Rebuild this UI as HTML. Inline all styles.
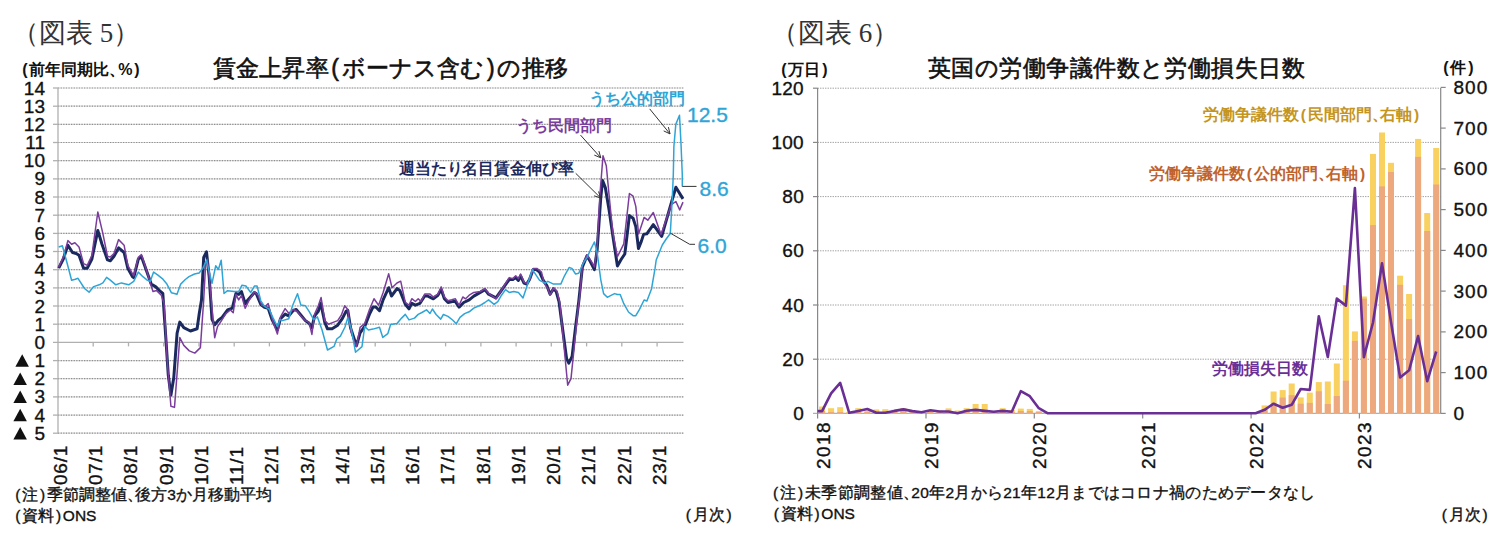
<!DOCTYPE html>
<html lang="ja"><head><meta charset="utf-8"><style>
html,body{margin:0;padding:0;background:#fff;width:1508px;height:542px;overflow:hidden}
body{position:relative;font-family:"Liberation Sans",sans-serif;color:#111}
.t{position:absolute;white-space:nowrap;line-height:1}
svg{position:absolute;left:0;top:0}
.fig{font-family:"Liberation Serif",serif;font-size:27px;color:#333}
.ttl{font-size:23px;letter-spacing:0.15px;font-weight:normal;-webkit-text-stroke:0.6px #111;color:#111}
.unit{font-size:16px;font-weight:bold}
.yl{font-size:19px;text-align:right;width:40px}
.xl{font-size:19px;transform-origin:0 0;transform:rotate(-90deg)}
.note{font-size:15.5px}
.pl,.pr{display:inline-block;width:0.56em;text-align:center;font-family:"Liberation Sans",sans-serif}
.cm{display:inline-block;width:0.55em;overflow:hidden;vertical-align:top}
.sk{-webkit-text-stroke:0.35px currentColor}
</style></head><body>
<svg width="1508" height="542" viewBox="0 0 1508 542">
<line x1="53" y1="88.0" x2="58" y2="88.0" stroke="#b0b0b0" stroke-width="1.3"/>
<line x1="58.0" y1="88.0" x2="683.5" y2="88.0" stroke="#e2e2e2" stroke-width="1.2"/>
<line x1="58.0" y1="88.0" x2="683.5" y2="88.0" stroke="#8f8f8f" stroke-width="1.2" stroke-dasharray="1.3 1.3"/>
<line x1="53" y1="106.2" x2="58" y2="106.2" stroke="#b0b0b0" stroke-width="1.3"/>
<line x1="58.0" y1="106.2" x2="683.5" y2="106.2" stroke="#e2e2e2" stroke-width="1.2"/>
<line x1="58.0" y1="106.2" x2="683.5" y2="106.2" stroke="#8f8f8f" stroke-width="1.2" stroke-dasharray="1.3 1.3"/>
<line x1="53" y1="124.3" x2="58" y2="124.3" stroke="#b0b0b0" stroke-width="1.3"/>
<line x1="58.0" y1="124.3" x2="683.5" y2="124.3" stroke="#e2e2e2" stroke-width="1.2"/>
<line x1="58.0" y1="124.3" x2="683.5" y2="124.3" stroke="#8f8f8f" stroke-width="1.2" stroke-dasharray="1.3 1.3"/>
<line x1="53" y1="142.5" x2="58" y2="142.5" stroke="#b0b0b0" stroke-width="1.3"/>
<line x1="58.0" y1="142.5" x2="683.5" y2="142.5" stroke="#e2e2e2" stroke-width="1.2"/>
<line x1="58.0" y1="142.5" x2="683.5" y2="142.5" stroke="#8f8f8f" stroke-width="1.2" stroke-dasharray="1.3 1.3"/>
<line x1="53" y1="160.7" x2="58" y2="160.7" stroke="#b0b0b0" stroke-width="1.3"/>
<line x1="58.0" y1="160.7" x2="683.5" y2="160.7" stroke="#e2e2e2" stroke-width="1.2"/>
<line x1="58.0" y1="160.7" x2="683.5" y2="160.7" stroke="#8f8f8f" stroke-width="1.2" stroke-dasharray="1.3 1.3"/>
<line x1="53" y1="178.9" x2="58" y2="178.9" stroke="#b0b0b0" stroke-width="1.3"/>
<line x1="58.0" y1="178.9" x2="683.5" y2="178.9" stroke="#e2e2e2" stroke-width="1.2"/>
<line x1="58.0" y1="178.9" x2="683.5" y2="178.9" stroke="#8f8f8f" stroke-width="1.2" stroke-dasharray="1.3 1.3"/>
<line x1="53" y1="197.0" x2="58" y2="197.0" stroke="#b0b0b0" stroke-width="1.3"/>
<line x1="58.0" y1="197.0" x2="683.5" y2="197.0" stroke="#e2e2e2" stroke-width="1.2"/>
<line x1="58.0" y1="197.0" x2="683.5" y2="197.0" stroke="#8f8f8f" stroke-width="1.2" stroke-dasharray="1.3 1.3"/>
<line x1="53" y1="215.2" x2="58" y2="215.2" stroke="#b0b0b0" stroke-width="1.3"/>
<line x1="58.0" y1="215.2" x2="683.5" y2="215.2" stroke="#e2e2e2" stroke-width="1.2"/>
<line x1="58.0" y1="215.2" x2="683.5" y2="215.2" stroke="#8f8f8f" stroke-width="1.2" stroke-dasharray="1.3 1.3"/>
<line x1="53" y1="233.4" x2="58" y2="233.4" stroke="#b0b0b0" stroke-width="1.3"/>
<line x1="58.0" y1="233.4" x2="683.5" y2="233.4" stroke="#e2e2e2" stroke-width="1.2"/>
<line x1="58.0" y1="233.4" x2="683.5" y2="233.4" stroke="#8f8f8f" stroke-width="1.2" stroke-dasharray="1.3 1.3"/>
<line x1="53" y1="251.5" x2="58" y2="251.5" stroke="#b0b0b0" stroke-width="1.3"/>
<line x1="58.0" y1="251.5" x2="683.5" y2="251.5" stroke="#e2e2e2" stroke-width="1.2"/>
<line x1="58.0" y1="251.5" x2="683.5" y2="251.5" stroke="#8f8f8f" stroke-width="1.2" stroke-dasharray="1.3 1.3"/>
<line x1="53" y1="269.7" x2="58" y2="269.7" stroke="#b0b0b0" stroke-width="1.3"/>
<line x1="58.0" y1="269.7" x2="683.5" y2="269.7" stroke="#e2e2e2" stroke-width="1.2"/>
<line x1="58.0" y1="269.7" x2="683.5" y2="269.7" stroke="#8f8f8f" stroke-width="1.2" stroke-dasharray="1.3 1.3"/>
<line x1="53" y1="287.9" x2="58" y2="287.9" stroke="#b0b0b0" stroke-width="1.3"/>
<line x1="58.0" y1="287.9" x2="683.5" y2="287.9" stroke="#e2e2e2" stroke-width="1.2"/>
<line x1="58.0" y1="287.9" x2="683.5" y2="287.9" stroke="#8f8f8f" stroke-width="1.2" stroke-dasharray="1.3 1.3"/>
<line x1="53" y1="306.0" x2="58" y2="306.0" stroke="#b0b0b0" stroke-width="1.3"/>
<line x1="58.0" y1="306.0" x2="683.5" y2="306.0" stroke="#e2e2e2" stroke-width="1.2"/>
<line x1="58.0" y1="306.0" x2="683.5" y2="306.0" stroke="#8f8f8f" stroke-width="1.2" stroke-dasharray="1.3 1.3"/>
<line x1="53" y1="324.2" x2="58" y2="324.2" stroke="#b0b0b0" stroke-width="1.3"/>
<line x1="58.0" y1="324.2" x2="683.5" y2="324.2" stroke="#e2e2e2" stroke-width="1.2"/>
<line x1="58.0" y1="324.2" x2="683.5" y2="324.2" stroke="#8f8f8f" stroke-width="1.2" stroke-dasharray="1.3 1.3"/>
<line x1="53" y1="342.4" x2="683.5" y2="342.4" stroke="#b0b0b0" stroke-width="1.3"/>
<line x1="53" y1="360.6" x2="58" y2="360.6" stroke="#b0b0b0" stroke-width="1.3"/>
<line x1="58.0" y1="360.6" x2="683.5" y2="360.6" stroke="#e2e2e2" stroke-width="1.2"/>
<line x1="58.0" y1="360.6" x2="683.5" y2="360.6" stroke="#8f8f8f" stroke-width="1.2" stroke-dasharray="1.3 1.3"/>
<line x1="53" y1="378.7" x2="58" y2="378.7" stroke="#b0b0b0" stroke-width="1.3"/>
<line x1="58.0" y1="378.7" x2="683.5" y2="378.7" stroke="#e2e2e2" stroke-width="1.2"/>
<line x1="58.0" y1="378.7" x2="683.5" y2="378.7" stroke="#8f8f8f" stroke-width="1.2" stroke-dasharray="1.3 1.3"/>
<line x1="53" y1="396.9" x2="58" y2="396.9" stroke="#b0b0b0" stroke-width="1.3"/>
<line x1="58.0" y1="396.9" x2="683.5" y2="396.9" stroke="#e2e2e2" stroke-width="1.2"/>
<line x1="58.0" y1="396.9" x2="683.5" y2="396.9" stroke="#8f8f8f" stroke-width="1.2" stroke-dasharray="1.3 1.3"/>
<line x1="53" y1="415.1" x2="58" y2="415.1" stroke="#b0b0b0" stroke-width="1.3"/>
<line x1="58.0" y1="415.1" x2="683.5" y2="415.1" stroke="#e2e2e2" stroke-width="1.2"/>
<line x1="58.0" y1="415.1" x2="683.5" y2="415.1" stroke="#8f8f8f" stroke-width="1.2" stroke-dasharray="1.3 1.3"/>
<line x1="53" y1="433.2" x2="58" y2="433.2" stroke="#b0b0b0" stroke-width="1.3"/>
<line x1="58.0" y1="433.2" x2="683.5" y2="433.2" stroke="#e2e2e2" stroke-width="1.2"/>
<line x1="58.0" y1="433.2" x2="683.5" y2="433.2" stroke="#8f8f8f" stroke-width="1.2" stroke-dasharray="1.3 1.3"/>
<line x1="58" y1="88" x2="58" y2="433.2" stroke="#b0b0b0" stroke-width="1.3"/>
<line x1="93.2" y1="342.4" x2="93.2" y2="346.4" stroke="#b0b0b0" stroke-width="1.3"/>
<line x1="128.5" y1="342.4" x2="128.5" y2="346.4" stroke="#b0b0b0" stroke-width="1.3"/>
<line x1="163.7" y1="342.4" x2="163.7" y2="346.4" stroke="#b0b0b0" stroke-width="1.3"/>
<line x1="199.0" y1="342.4" x2="199.0" y2="346.4" stroke="#b0b0b0" stroke-width="1.3"/>
<line x1="234.2" y1="342.4" x2="234.2" y2="346.4" stroke="#b0b0b0" stroke-width="1.3"/>
<line x1="269.4" y1="342.4" x2="269.4" y2="346.4" stroke="#b0b0b0" stroke-width="1.3"/>
<line x1="304.7" y1="342.4" x2="304.7" y2="346.4" stroke="#b0b0b0" stroke-width="1.3"/>
<line x1="339.9" y1="342.4" x2="339.9" y2="346.4" stroke="#b0b0b0" stroke-width="1.3"/>
<line x1="375.2" y1="342.4" x2="375.2" y2="346.4" stroke="#b0b0b0" stroke-width="1.3"/>
<line x1="410.4" y1="342.4" x2="410.4" y2="346.4" stroke="#b0b0b0" stroke-width="1.3"/>
<line x1="445.6" y1="342.4" x2="445.6" y2="346.4" stroke="#b0b0b0" stroke-width="1.3"/>
<line x1="480.9" y1="342.4" x2="480.9" y2="346.4" stroke="#b0b0b0" stroke-width="1.3"/>
<line x1="516.1" y1="342.4" x2="516.1" y2="346.4" stroke="#b0b0b0" stroke-width="1.3"/>
<line x1="551.3" y1="342.4" x2="551.3" y2="346.4" stroke="#b0b0b0" stroke-width="1.3"/>
<line x1="586.6" y1="342.4" x2="586.6" y2="346.4" stroke="#b0b0b0" stroke-width="1.3"/>
<line x1="621.8" y1="342.4" x2="621.8" y2="346.4" stroke="#b0b0b0" stroke-width="1.3"/>
<line x1="657.1" y1="342.4" x2="657.1" y2="346.4" stroke="#b0b0b0" stroke-width="1.3"/>
<polyline points="58.7,268.2 63.3,259.0 67.9,245.2 72.5,252.5 76.2,253.5 79.0,255.3 83.6,268.2 87.3,268.2 91.9,259.0 97.8,230.4 102.0,244.2 107.5,259.9 110.3,260.8 114.0,256.2 118.6,247.9 124.1,252.5 127.8,268.2 132.4,276.5 133.7,277.6 138.3,259.2 141.4,256.5 145.7,268.4 151.2,284.1 155.8,286.9 159.5,290.6 162.8,293.3 166.1,342.0 168.3,375.3 170.9,395.2 173.8,377.5 177.1,333.2 179.8,322.1 183.8,327.7 190.4,331.0 197.1,328.8 199.3,313.3 201.5,300.0 203.7,257.4 206.5,251.8 209.2,276.9 212.0,319.3 214.7,324.8 218.4,320.2 222.1,317.4 227.6,310.0 232.3,308.2 235.9,293.5 238.7,294.4 241.5,291.6 245.2,303.6 247.9,299.9 254.4,292.5 256.2,293.5 260.8,304.5 264.5,307.3 268.2,308.2 271.9,319.3 277.4,330.0 280.5,318.7 285.1,314.1 288.8,315.9 293.4,310.4 296.2,309.5 300.8,315.0 305.4,320.6 309.1,323.3 311.9,327.9 314.6,315.9 318.3,311.3 320.7,303.0 324.8,322.4 327.5,328.8 332.1,328.8 337.7,325.2 342.3,318.7 346.0,311.3 347.8,310.4 350.6,327.9 353.7,337.4 356.5,345.7 360.1,332.8 364.7,326.4 369.4,314.4 373.0,307.0 375.8,307.0 379.5,310.7 383.2,299.6 388.7,287.7 391.5,296.0 397.0,288.6 399.8,290.4 405.3,304.2 409.0,308.8 411.8,303.3 415.4,305.2 420.0,303.3 424.7,296.0 427.4,296.0 433.3,298.8 437.9,295.2 441.2,289.6 444.4,298.8 448.0,302.5 452.6,301.6 455.4,301.6 459.1,307.1 463.7,302.5 469.2,299.8 473.8,296.1 480.3,292.4 484.9,289.6 488.6,294.2 496.0,297.9 500.6,291.5 504.6,285.9 509.2,279.5 512.9,279.5 515.7,277.6 518.4,280.4 520.6,275.8 524.0,283.2 526.7,284.1 529.5,279.5 533.2,269.4 535.9,269.4 539.6,272.1 543.3,280.4 547.0,285.9 550.1,294.2 553.5,288.7 556.2,291.5 559.0,301.6 563.3,334.3 566.6,358.6 568.8,363.1 572.1,356.4 575.5,327.6 578.8,301.1 582.4,266.9 587.0,255.8 590.7,262.3 594.4,269.6 597.1,250.3 600.8,197.1 602.6,180.6 605.4,187.9 609.1,210.0 612.8,235.5 617.4,265.9 621.1,259.5 624.8,254.0 626.6,239.2 629.4,215.6 633.1,218.3 635.8,226.6 638.5,248.5 641.4,241.1 643.6,234.4 646.8,233.8 653.3,224.7 661.7,236.4 672.6,198.3 675.9,187.3 683.0,198.9" fill="none" stroke="#1b2a5e" stroke-width="3" stroke-linejoin="round"/>
<polyline points="58.7,267.3 63.3,257.1 67.9,240.6 71.6,244.2 74.9,242.8 79.0,247.0 83.6,263.6 87.3,265.4 91.9,255.3 97.8,212.0 102.6,232.3 107.5,256.2 110.3,257.1 114.0,253.5 118.6,239.6 124.1,245.2 127.8,265.4 132.4,273.7 133.7,275.8 138.3,257.4 141.4,254.6 145.7,267.5 151.2,286.0 153.0,291.5 156.7,290.6 161.3,295.2 164.1,303.5 167.2,359.8 170.9,406.3 174.5,407.4 177.1,373.1 179.8,337.6 183.8,345.4 189.3,350.9 194.8,353.1 200.4,347.6 203.7,300.0 205.6,264.7 207.4,259.2 209.2,276.9 214.7,337.7 217.5,326.6 221.2,321.1 225.8,313.7 230.4,310.0 233.2,312.8 235.9,294.4 238.7,299.9 241.5,295.3 245.2,308.2 248.8,300.8 254.4,291.6 258.1,295.3 261.8,305.4 265.4,306.4 268.2,303.6 272.8,321.1 277.4,334.0 280.5,316.9 285.1,308.6 288.8,313.2 293.4,309.5 297.1,311.3 300.8,315.9 305.4,320.6 309.1,322.4 311.9,334.4 314.6,314.1 318.3,305.8 321.1,297.5 324.8,320.6 328.5,324.2 333.1,322.4 337.7,320.6 341.4,315.0 344.7,305.8 347.8,309.5 350.9,331.6 354.1,341.1 356.5,346.6 360.1,327.3 364.7,323.6 369.4,309.8 374.0,298.7 378.6,305.2 383.2,292.3 388.7,273.8 392.0,287.7 397.0,283.0 400.7,281.2 405.3,302.4 409.0,305.2 411.8,298.7 415.4,301.5 418.2,298.7 421.0,301.5 424.7,294.1 430.0,294.1 433.3,297.0 437.9,294.2 441.2,286.9 444.4,297.0 448.0,300.7 451.7,299.8 455.4,298.8 459.1,305.3 462.8,297.0 465.6,298.8 469.2,295.2 473.8,292.4 480.3,291.5 484.9,288.7 488.6,293.3 496.0,298.8 500.6,291.5 504.6,285.0 509.2,277.6 512.9,278.6 515.7,275.8 518.4,278.6 520.6,274.0 524.0,282.3 526.7,283.2 530.4,278.6 533.2,268.4 536.9,268.4 541.5,272.1 544.2,283.2 547.9,288.7 550.1,295.2 553.5,287.8 557.1,291.5 559.9,303.5 563.3,338.7 567.7,385.2 571.0,378.6 574.4,345.3 577.7,312.1 579.9,294.4 582.4,265.0 587.0,254.9 590.7,260.4 594.4,266.9 597.1,246.6 599.9,195.3 603.0,155.7 606.3,165.8 609.1,195.3 612.8,232.2 617.4,256.7 623.8,243.8 629.4,193.5 633.1,196.2 635.8,206.4 638.6,234.0 644.1,217.4 647.8,220.2 653.3,212.5 661.0,234.4 671.3,204.7 675.9,201.5 679.7,209.9 683.0,202.1" fill="none" stroke="#7b3d9c" stroke-width="1.5" stroke-linejoin="round"/>
<polyline points="58.7,247.0 62.4,245.7 67.0,262.7 71.6,280.2 75.3,279.3 78.0,278.3 84.5,288.5 89.1,292.2 93.7,286.6 99.2,284.8 102.9,282.9 106.6,277.4 110.3,280.2 115.8,284.8 121.4,282.9 128.7,284.8 133.7,281.3 138.3,272.1 142.9,276.7 147.5,280.4 150.3,281.3 153.6,272.1 157.6,274.9 162.3,278.6 166.9,284.1 171.5,292.8 177.0,294.2 180.7,284.1 185.3,279.5 189.0,276.7 194.5,274.0 199.1,273.0 202.8,268.4 206.5,260.3 212.0,283.3 215.7,265.8 218.4,269.5 221.2,260.3 224.0,293.5 227.6,290.7 234.1,291.6 238.7,291.6 242.0,285.2 246.1,286.1 250.7,292.5 254.4,286.1 257.1,286.1 260.8,300.8 264.5,306.4 269.1,309.1 272.8,317.4 277.4,326.6 280.0,319.3 282.4,320.6 288.8,318.7 292.5,305.8 297.5,293.8 300.8,304.9 305.4,305.8 309.1,311.3 313.7,319.6 317.4,316.9 322.0,329.8 327.5,350.0 334.0,346.4 336.8,339.0 340.4,336.2 345.0,327.0 347.8,317.8 351.5,329.8 355.5,352.2 362.0,346.6 364.7,326.4 368.4,330.0 373.0,329.1 379.5,327.3 382.8,337.4 387.8,333.7 390.6,324.5 397.0,323.6 401.6,318.1 405.3,314.4 409.0,319.9 414.5,318.1 418.2,314.4 421.9,312.5 426.5,309.8 430.0,313.5 432.4,309.0 436.1,314.5 440.7,319.1 443.4,314.5 448.0,316.4 452.6,320.0 456.3,323.7 460.0,317.3 464.6,313.6 469.2,311.8 473.8,308.1 480.3,305.3 484.9,302.5 488.6,299.8 494.1,304.4 497.8,301.6 501.5,295.2 505.5,289.6 509.2,292.4 513.8,291.5 518.4,292.4 523.0,297.9 526.7,286.9 532.3,269.4 539.6,280.4 545.2,283.2 547.9,281.3 553.5,284.1 560.8,284.1 564.5,275.8 569.1,267.5 571.9,268.4 575.6,274.0 578.7,273.3 583.3,263.2 587.0,257.6 591.2,248.4 594.4,242.0 597.1,252.1 600.8,279.8 603.6,293.6 607.3,297.3 611.0,295.4 614.6,293.6 617.4,294.5 620.2,294.5 623.8,303.7 628.5,312.0 633.1,315.7 635.8,315.7 639.5,309.3 644.1,300.0 646.9,301.0 651.5,289.0 655.0,268.7 656.2,260.0 662.3,245.0 666.2,239.0 670.3,233.5 672.2,200.0 673.3,175.0 673.9,146.3 675.8,124.4 679.5,115.3 681.0,143.8 682.3,175.0 682.3,186.4" fill="none" stroke="#2ea5d7" stroke-width="1.5" stroke-linejoin="round"/>
<line x1="649.7" y1="108.9" x2="670.0" y2="133.9" stroke="#333" stroke-width="1"/>
<polyline points="663.7,130.9 670.0,133.9 668.4,127.1" fill="none" stroke="#333" stroke-width="1"/>
<line x1="580.5" y1="135.1" x2="600.8" y2="157.8" stroke="#333" stroke-width="1"/>
<polyline points="594.3,155.1 600.8,157.8 598.9,151.1" fill="none" stroke="#333" stroke-width="1"/>
<line x1="575.7" y1="173.3" x2="600.8" y2="198.1" stroke="#333" stroke-width="1"/>
<polyline points="594.2,195.8 600.8,198.1 598.5,191.5" fill="none" stroke="#333" stroke-width="1"/>
<polyline points="682.3,186.4 696.5,186.4" fill="none" stroke="#333" stroke-width="1"/>
<polyline points="670.4,233.2 689.7,244.3 695,244.3" fill="none" stroke="#333" stroke-width="1"/>
<line x1="813" y1="413.4" x2="1440.7" y2="413.4" stroke="#b0b0b0" stroke-width="1.3"/>
<line x1="813" y1="359.2" x2="817.6" y2="359.2" stroke="#888" stroke-width="1.2"/>
<line x1="817.6" y1="359.2" x2="1440.7" y2="359.2" stroke="#9a9a9a" stroke-width="1" stroke-dasharray="1.3 1.2"/>
<line x1="813" y1="305.0" x2="817.6" y2="305.0" stroke="#888" stroke-width="1.2"/>
<line x1="817.6" y1="305.0" x2="1440.7" y2="305.0" stroke="#9a9a9a" stroke-width="1" stroke-dasharray="1.3 1.2"/>
<line x1="813" y1="250.8" x2="817.6" y2="250.8" stroke="#888" stroke-width="1.2"/>
<line x1="817.6" y1="250.8" x2="1440.7" y2="250.8" stroke="#9a9a9a" stroke-width="1" stroke-dasharray="1.3 1.2"/>
<line x1="813" y1="196.6" x2="817.6" y2="196.6" stroke="#888" stroke-width="1.2"/>
<line x1="817.6" y1="196.6" x2="1440.7" y2="196.6" stroke="#9a9a9a" stroke-width="1" stroke-dasharray="1.3 1.2"/>
<line x1="813" y1="142.4" x2="817.6" y2="142.4" stroke="#888" stroke-width="1.2"/>
<line x1="817.6" y1="142.4" x2="1440.7" y2="142.4" stroke="#9a9a9a" stroke-width="1" stroke-dasharray="1.3 1.2"/>
<line x1="813" y1="88.2" x2="817.6" y2="88.2" stroke="#888" stroke-width="1.2"/>
<line x1="817.6" y1="88.2" x2="1440.7" y2="88.2" stroke="#9a9a9a" stroke-width="1" stroke-dasharray="1.3 1.2"/>
<line x1="817.6" y1="88" x2="817.6" y2="413.4" stroke="#888" stroke-width="1.2"/>
<line x1="1440.7" y1="88" x2="1440.7" y2="413.4" stroke="#888" stroke-width="1.2"/>
<line x1="1440.7" y1="413.4" x2="1445.7" y2="413.4" stroke="#888" stroke-width="1.2"/>
<line x1="1440.7" y1="372.6" x2="1445.7" y2="372.6" stroke="#888" stroke-width="1.2"/>
<line x1="1440.7" y1="331.9" x2="1445.7" y2="331.9" stroke="#888" stroke-width="1.2"/>
<line x1="1440.7" y1="291.1" x2="1445.7" y2="291.1" stroke="#888" stroke-width="1.2"/>
<line x1="1440.7" y1="250.4" x2="1445.7" y2="250.4" stroke="#888" stroke-width="1.2"/>
<line x1="1440.7" y1="209.6" x2="1445.7" y2="209.6" stroke="#888" stroke-width="1.2"/>
<line x1="1440.7" y1="168.9" x2="1445.7" y2="168.9" stroke="#888" stroke-width="1.2"/>
<line x1="1440.7" y1="128.1" x2="1445.7" y2="128.1" stroke="#888" stroke-width="1.2"/>
<line x1="1440.7" y1="87.4" x2="1445.7" y2="87.4" stroke="#888" stroke-width="1.2"/>
<line x1="817.6" y1="413.4" x2="817.6" y2="418.4" stroke="#888" stroke-width="1.2"/>
<line x1="926.0" y1="413.4" x2="926.0" y2="418.4" stroke="#888" stroke-width="1.2"/>
<line x1="1034.3" y1="413.4" x2="1034.3" y2="418.4" stroke="#888" stroke-width="1.2"/>
<line x1="1142.7" y1="413.4" x2="1142.7" y2="418.4" stroke="#888" stroke-width="1.2"/>
<line x1="1251.1" y1="413.4" x2="1251.1" y2="418.4" stroke="#888" stroke-width="1.2"/>
<line x1="1359.4" y1="413.4" x2="1359.4" y2="418.4" stroke="#888" stroke-width="1.2"/>
<rect x="819.1" y="406.5" width="6" height="6.9" fill="#f8d160"/>
<rect x="819.1" y="411.0" width="6" height="2.4" fill="#eda87e"/>
<rect x="828.1" y="408.2" width="6" height="5.2" fill="#f8d160"/>
<rect x="828.1" y="412.0" width="6" height="1.4" fill="#eda87e"/>
<rect x="837.2" y="407.2" width="6" height="6.2" fill="#f8d160"/>
<rect x="837.2" y="412.0" width="6" height="1.4" fill="#eda87e"/>
<rect x="846.2" y="412.0" width="6" height="1.4" fill="#f8d160"/>
<rect x="846.2" y="413.0" width="6" height="0.4" fill="#eda87e"/>
<rect x="855.2" y="408.2" width="6" height="5.2" fill="#f8d160"/>
<rect x="855.2" y="411.0" width="6" height="2.4" fill="#eda87e"/>
<rect x="864.3" y="410.7" width="6" height="2.7" fill="#f8d160"/>
<rect x="864.3" y="412.0" width="6" height="1.4" fill="#eda87e"/>
<rect x="873.3" y="409.4" width="6" height="4.0" fill="#f8d160"/>
<rect x="873.3" y="412.0" width="6" height="1.4" fill="#eda87e"/>
<rect x="882.3" y="409.2" width="6" height="4.2" fill="#f8d160"/>
<rect x="882.3" y="412.0" width="6" height="1.4" fill="#eda87e"/>
<rect x="891.4" y="409.7" width="6" height="3.7" fill="#f8d160"/>
<rect x="891.4" y="412.0" width="6" height="1.4" fill="#eda87e"/>
<rect x="900.4" y="408.0" width="6" height="5.4" fill="#f8d160"/>
<rect x="900.4" y="411.0" width="6" height="2.4" fill="#eda87e"/>
<rect x="909.4" y="410.5" width="6" height="2.9" fill="#f8d160"/>
<rect x="909.4" y="412.0" width="6" height="1.4" fill="#eda87e"/>
<rect x="918.5" y="411.0" width="6" height="2.4" fill="#f8d160"/>
<rect x="918.5" y="412.5" width="6" height="0.9" fill="#eda87e"/>
<rect x="927.5" y="410.0" width="6" height="3.4" fill="#f8d160"/>
<rect x="927.5" y="412.0" width="6" height="1.4" fill="#eda87e"/>
<rect x="936.5" y="410.5" width="6" height="2.9" fill="#f8d160"/>
<rect x="936.5" y="412.0" width="6" height="1.4" fill="#eda87e"/>
<rect x="945.5" y="408.4" width="6" height="5.0" fill="#f8d160"/>
<rect x="945.5" y="411.0" width="6" height="2.4" fill="#eda87e"/>
<rect x="954.6" y="410.5" width="6" height="2.9" fill="#f8d160"/>
<rect x="954.6" y="412.0" width="6" height="1.4" fill="#eda87e"/>
<rect x="963.6" y="408.2" width="6" height="5.2" fill="#f8d160"/>
<rect x="963.6" y="411.0" width="6" height="2.4" fill="#eda87e"/>
<rect x="972.6" y="404.0" width="6" height="9.4" fill="#f8d160"/>
<rect x="972.6" y="410.0" width="6" height="3.4" fill="#eda87e"/>
<rect x="981.7" y="404.0" width="6" height="9.4" fill="#f8d160"/>
<rect x="981.7" y="410.0" width="6" height="3.4" fill="#eda87e"/>
<rect x="990.7" y="411.0" width="6" height="2.4" fill="#f8d160"/>
<rect x="990.7" y="412.5" width="6" height="0.9" fill="#eda87e"/>
<rect x="999.7" y="408.2" width="6" height="5.2" fill="#f8d160"/>
<rect x="999.7" y="411.0" width="6" height="2.4" fill="#eda87e"/>
<rect x="1008.8" y="410.0" width="6" height="3.4" fill="#f8d160"/>
<rect x="1008.8" y="412.0" width="6" height="1.4" fill="#eda87e"/>
<rect x="1017.8" y="408.6" width="6" height="4.8" fill="#f8d160"/>
<rect x="1017.8" y="411.0" width="6" height="2.4" fill="#eda87e"/>
<rect x="1026.8" y="408.9" width="6" height="4.5" fill="#f8d160"/>
<rect x="1026.8" y="411.0" width="6" height="2.4" fill="#eda87e"/>
<rect x="1035.8" y="411.1" width="6" height="2.3" fill="#f8d160"/>
<rect x="1035.8" y="412.0" width="6" height="1.4" fill="#eda87e"/>
<rect x="1261.6" y="405.4" width="6" height="8.0" fill="#f8d160"/>
<rect x="1261.6" y="410.3" width="6" height="3.1" fill="#eda87e"/>
<rect x="1270.6" y="391.5" width="6" height="21.9" fill="#f8d160"/>
<rect x="1270.6" y="404.0" width="6" height="9.4" fill="#eda87e"/>
<rect x="1279.7" y="390.1" width="6" height="23.3" fill="#f8d160"/>
<rect x="1279.7" y="397.6" width="6" height="15.8" fill="#eda87e"/>
<rect x="1288.7" y="383.5" width="6" height="29.9" fill="#f8d160"/>
<rect x="1288.7" y="395.2" width="6" height="18.2" fill="#eda87e"/>
<rect x="1297.7" y="397.4" width="6" height="16.0" fill="#f8d160"/>
<rect x="1297.7" y="403.7" width="6" height="9.7" fill="#eda87e"/>
<rect x="1306.8" y="392.6" width="6" height="20.8" fill="#f8d160"/>
<rect x="1306.8" y="402.9" width="6" height="10.5" fill="#eda87e"/>
<rect x="1315.8" y="382.1" width="6" height="31.3" fill="#f8d160"/>
<rect x="1315.8" y="391.3" width="6" height="22.1" fill="#eda87e"/>
<rect x="1324.8" y="381.5" width="6" height="31.9" fill="#f8d160"/>
<rect x="1324.8" y="404.0" width="6" height="9.4" fill="#eda87e"/>
<rect x="1333.8" y="363.5" width="6" height="49.9" fill="#f8d160"/>
<rect x="1333.8" y="396.0" width="6" height="17.4" fill="#eda87e"/>
<rect x="1342.9" y="285.2" width="6" height="128.2" fill="#f8d160"/>
<rect x="1342.9" y="380.7" width="6" height="32.7" fill="#eda87e"/>
<rect x="1351.9" y="331.4" width="6" height="82.0" fill="#f8d160"/>
<rect x="1351.9" y="340.9" width="6" height="72.5" fill="#eda87e"/>
<rect x="1360.9" y="296.5" width="6" height="116.9" fill="#f8d160"/>
<rect x="1360.9" y="298.7" width="6" height="114.7" fill="#eda87e"/>
<rect x="1370.0" y="153.9" width="6" height="259.5" fill="#f8d160"/>
<rect x="1370.0" y="225.1" width="6" height="188.3" fill="#eda87e"/>
<rect x="1379.0" y="132.5" width="6" height="280.9" fill="#f8d160"/>
<rect x="1379.0" y="186.4" width="6" height="227.0" fill="#eda87e"/>
<rect x="1388.0" y="162.8" width="6" height="250.6" fill="#f8d160"/>
<rect x="1388.0" y="172.0" width="6" height="241.4" fill="#eda87e"/>
<rect x="1397.1" y="275.7" width="6" height="137.7" fill="#f8d160"/>
<rect x="1397.1" y="284.8" width="6" height="128.6" fill="#eda87e"/>
<rect x="1406.1" y="294.0" width="6" height="119.4" fill="#f8d160"/>
<rect x="1406.1" y="319.1" width="6" height="94.3" fill="#eda87e"/>
<rect x="1415.1" y="138.9" width="6" height="274.5" fill="#f8d160"/>
<rect x="1415.1" y="156.9" width="6" height="256.5" fill="#eda87e"/>
<rect x="1424.2" y="213.0" width="6" height="200.4" fill="#f8d160"/>
<rect x="1424.2" y="231.0" width="6" height="182.4" fill="#eda87e"/>
<rect x="1433.2" y="148.0" width="6" height="265.4" fill="#f8d160"/>
<rect x="1433.2" y="184.5" width="6" height="228.9" fill="#eda87e"/>
<polyline points="817.6,411.1 822.1,411.1 831.1,393.3 840.2,382.9 849.2,412.8 858.2,410.9 867.3,409.0 876.3,412.8 885.3,412.8 894.4,410.9 903.4,409.4 912.4,411.1 921.5,412.3 930.5,410.3 939.5,411.5 948.5,411.5 957.6,413.2 966.6,410.7 975.6,409.9 984.7,410.9 993.7,411.7 1002.7,410.9 1011.8,411.7 1020.8,391.2 1029.8,396.2 1038.8,408.2 1047.9,413.3 1056.9,413.3 1065.9,413.3 1075.0,413.3 1084.0,413.3 1093.0,413.3 1102.1,413.3 1111.1,413.3 1120.1,413.3 1129.2,413.3 1138.2,413.3 1147.2,413.3 1156.2,413.3 1165.3,413.3 1174.3,413.3 1183.3,413.3 1192.4,413.3 1201.4,413.3 1210.4,413.3 1219.5,413.3 1228.5,413.3 1237.5,413.3 1246.5,413.3 1255.6,413.3 1264.6,409.8 1273.6,403.7 1282.7,407.8 1291.7,404.8 1300.7,389.0 1309.8,389.9 1318.8,316.2 1327.8,357.0 1336.8,298.6 1345.9,305.6 1354.9,188.1 1363.9,357.1 1373.0,322.5 1382.0,263.3 1391.0,322.0 1400.1,377.5 1409.1,370.3 1418.1,336.0 1427.2,381.3 1436.2,351.5" fill="none" stroke="#6a2f95" stroke-width="2.6" stroke-linejoin="round"/>
<polygon points="15.4,366.8 28.9,366.8 22.2,354.2" fill="#111"/>
<polygon points="13.4,384.9 26.9,384.9 20.2,372.4" fill="#111"/>
<polygon points="13.4,403.1 26.9,403.1 20.2,390.6" fill="#111"/>
<polygon points="13.4,421.3 26.9,421.3 20.2,408.8" fill="#111"/>
<polygon points="13.4,439.4 26.9,439.4 20.2,426.9" fill="#111"/>
</svg>
<div class="t fig" style="left:12px;top:20px">（図表 5）</div>
<div class="t fig" style="left:771px;top:20px">（図表 6）</div>
<div class="t ttl" style="left:213px;top:57px">賃金上昇率<span class="pl">(</span>ボーナス含む<span class="pr">)</span>の推移</div>
<div class="t ttl" style="left:928px;top:57px;letter-spacing:0.45px">英国の労働争議件数と労働損失日数</div>
<div class="t unit" style="left:20.5px;top:62px"><span class="pl">(</span>前年同期比<span class="cm">、</span>%<span class="pr">)</span></div>
<div class="t unit" style="left:779.5px;top:62px"><span class="pl">(</span>万日<span class="pr">)</span></div>
<div class="t unit" style="left:1441.5px;top:59.5px"><span class="pl">(</span>件<span class="pr">)</span></div>
<div class="t yl sk" style="left:-35px;top:78.5px;width:80px">14</div>
<div class="t yl sk" style="left:-35px;top:96.7px;width:80px">13</div>
<div class="t yl sk" style="left:-35px;top:114.8px;width:80px">12</div>
<div class="t yl sk" style="left:-35px;top:133.0px;width:80px">11</div>
<div class="t yl sk" style="left:-35px;top:151.2px;width:80px">10</div>
<div class="t yl sk" style="left:-35px;top:169.4px;width:80px">9</div>
<div class="t yl sk" style="left:-35px;top:187.5px;width:80px">8</div>
<div class="t yl sk" style="left:-35px;top:205.7px;width:80px">7</div>
<div class="t yl sk" style="left:-35px;top:223.9px;width:80px">6</div>
<div class="t yl sk" style="left:-35px;top:242.0px;width:80px">5</div>
<div class="t yl sk" style="left:-35px;top:260.2px;width:80px">4</div>
<div class="t yl sk" style="left:-35px;top:278.4px;width:80px">3</div>
<div class="t yl sk" style="left:-35px;top:296.5px;width:80px">2</div>
<div class="t yl sk" style="left:-35px;top:314.7px;width:80px">1</div>
<div class="t yl sk" style="left:-35px;top:332.9px;width:80px">0</div>
<div class="t yl sk" style="left:-35px;top:351.1px;width:80px">1</div>
<div class="t yl sk" style="left:-35px;top:369.2px;width:80px">2</div>
<div class="t yl sk" style="left:-35px;top:387.4px;width:80px">3</div>
<div class="t yl sk" style="left:-35px;top:405.6px;width:80px">4</div>
<div class="t yl sk" style="left:-35px;top:423.7px;width:80px">5</div>
<div class="t yl sk" style="left:724px;top:403.9px;width:80px;letter-spacing:0.3px">0</div>
<div class="t yl sk" style="left:724px;top:349.7px;width:80px;letter-spacing:0.3px">20</div>
<div class="t yl sk" style="left:724px;top:295.5px;width:80px;letter-spacing:0.3px">40</div>
<div class="t yl sk" style="left:724px;top:241.3px;width:80px;letter-spacing:0.3px">60</div>
<div class="t yl sk" style="left:724px;top:187.1px;width:80px;letter-spacing:0.3px">80</div>
<div class="t yl sk" style="left:724px;top:132.9px;width:80px;letter-spacing:0.3px">100</div>
<div class="t yl sk" style="left:724px;top:78.7px;width:80px;letter-spacing:0.3px">120</div>
<div class="t sk" style="font-size:19px;letter-spacing:1px;left:1453.5px;top:403.9px">0</div>
<div class="t sk" style="font-size:19px;letter-spacing:1px;left:1453.5px;top:363.1px">100</div>
<div class="t sk" style="font-size:19px;letter-spacing:1px;left:1453.5px;top:322.4px">200</div>
<div class="t sk" style="font-size:19px;letter-spacing:1px;left:1453.5px;top:281.6px">300</div>
<div class="t sk" style="font-size:19px;letter-spacing:1px;left:1453.5px;top:240.9px">400</div>
<div class="t sk" style="font-size:19px;letter-spacing:1px;left:1453.5px;top:200.1px">500</div>
<div class="t sk" style="font-size:19px;letter-spacing:1px;left:1453.5px;top:159.4px">600</div>
<div class="t sk" style="font-size:19px;letter-spacing:1px;left:1453.5px;top:118.6px">700</div>
<div class="t sk" style="font-size:19px;letter-spacing:1px;left:1453.5px;top:77.9px">800</div>
<div class="t xl sk" style="left:50.8px;top:484.5px;letter-spacing:0.8px">06/1</div>
<div class="t xl sk" style="left:86.0px;top:484.5px;letter-spacing:0.8px">07/1</div>
<div class="t xl sk" style="left:121.3px;top:484.5px;letter-spacing:0.8px">08/1</div>
<div class="t xl sk" style="left:156.5px;top:484.5px;letter-spacing:0.8px">09/1</div>
<div class="t xl sk" style="left:191.8px;top:484.5px;letter-spacing:0.8px">10/1</div>
<div class="t xl sk" style="left:227.0px;top:484.5px;letter-spacing:0.8px">11/1</div>
<div class="t xl sk" style="left:262.2px;top:484.5px;letter-spacing:0.8px">12/1</div>
<div class="t xl sk" style="left:297.5px;top:484.5px;letter-spacing:0.8px">13/1</div>
<div class="t xl sk" style="left:332.7px;top:484.5px;letter-spacing:0.8px">14/1</div>
<div class="t xl sk" style="left:368.0px;top:484.5px;letter-spacing:0.8px">15/1</div>
<div class="t xl sk" style="left:403.2px;top:484.5px;letter-spacing:0.8px">16/1</div>
<div class="t xl sk" style="left:438.4px;top:484.5px;letter-spacing:0.8px">17/1</div>
<div class="t xl sk" style="left:473.7px;top:484.5px;letter-spacing:0.8px">18/1</div>
<div class="t xl sk" style="left:508.9px;top:484.5px;letter-spacing:0.8px">19/1</div>
<div class="t xl sk" style="left:544.1px;top:484.5px;letter-spacing:0.8px">20/1</div>
<div class="t xl sk" style="left:579.4px;top:484.5px;letter-spacing:0.8px">21/1</div>
<div class="t xl sk" style="left:614.6px;top:484.5px;letter-spacing:0.8px">22/1</div>
<div class="t xl sk" style="left:649.9px;top:484.5px;letter-spacing:0.8px">23/1</div>
<div class="t xl sk" style="left:813.6px;top:469px;letter-spacing:1.4px">2018</div>
<div class="t xl sk" style="left:922.0px;top:469px;letter-spacing:1.4px">2019</div>
<div class="t xl sk" style="left:1030.3px;top:469px;letter-spacing:1.4px">2020</div>
<div class="t xl sk" style="left:1138.7px;top:469px;letter-spacing:1.4px">2021</div>
<div class="t xl sk" style="left:1247.1px;top:469px;letter-spacing:1.4px">2022</div>
<div class="t xl sk" style="left:1355.4px;top:469px;letter-spacing:1.4px">2023</div>
<div class="t note sk" style="left:13.5px;top:487px"><span class="pl">(</span>注<span class="pr">)</span>季節調整値<span class="cm">、</span>後方3か月移動平均</div>
<div class="t note sk" style="left:13.5px;top:508px"><span class="pl">(</span>資料<span class="pr">)</span>ONS</div>
<div class="t note sk" style="left:684px;top:507px"><span class="pl">(</span>月次<span class="pr">)</span></div>
<div class="t note sk" style="left:771.5px;top:485px;letter-spacing:0.28px"><span class="pl">(</span>注<span class="pr">)</span>未季節調整値<span class="cm">、</span>20年2月から21年12月まではコロナ禍のためデータなし</div>
<div class="t note sk" style="left:772px;top:506px"><span class="pl">(</span>資料<span class="pr">)</span>ONS</div>
<div class="t note sk" style="left:1440px;top:507px"><span class="pl">(</span>月次<span class="pr">)</span></div>
<div class="t note" style="left:588.5px;top:91.2px;color:#2ea5d7;font-weight:bold">うち公的部門</div>
<div class="t note" style="left:515.5px;top:118.3px;color:#7b3d9c;font-weight:bold">うち民間部門</div>
<div class="t note" style="left:399px;top:161px;color:#1b2a5e;font-weight:bold;letter-spacing:-0.15px">週当たり名目賃金伸び率</div>
<div class="t sk" style="font-size:21px;left:687px;top:104px;color:#2ea5d7">12.5</div>
<div class="t sk" style="font-size:21px;left:699.5px;top:178px;color:#2ea5d7">8.6</div>
<div class="t sk" style="font-size:21px;left:697.5px;top:235px;color:#2ea5d7">6.0</div>
<div class="t note" style="left:1203px;top:107px;color:#c4951f;font-weight:bold">労働争議件数<span class="pl">(</span>民間部門<span class="cm">、</span>右軸<span class="pr">)</span></div>
<div class="t note" style="left:1149px;top:166px;color:#c0622b;font-weight:bold">労働争議件数<span class="pl">(</span>公的部門<span class="cm">、</span>右軸<span class="pr">)</span></div>
<div class="t note" style="left:1212px;top:361px;color:#6a2f95;font-weight:bold">労働損失日数</div>
</body></html>
